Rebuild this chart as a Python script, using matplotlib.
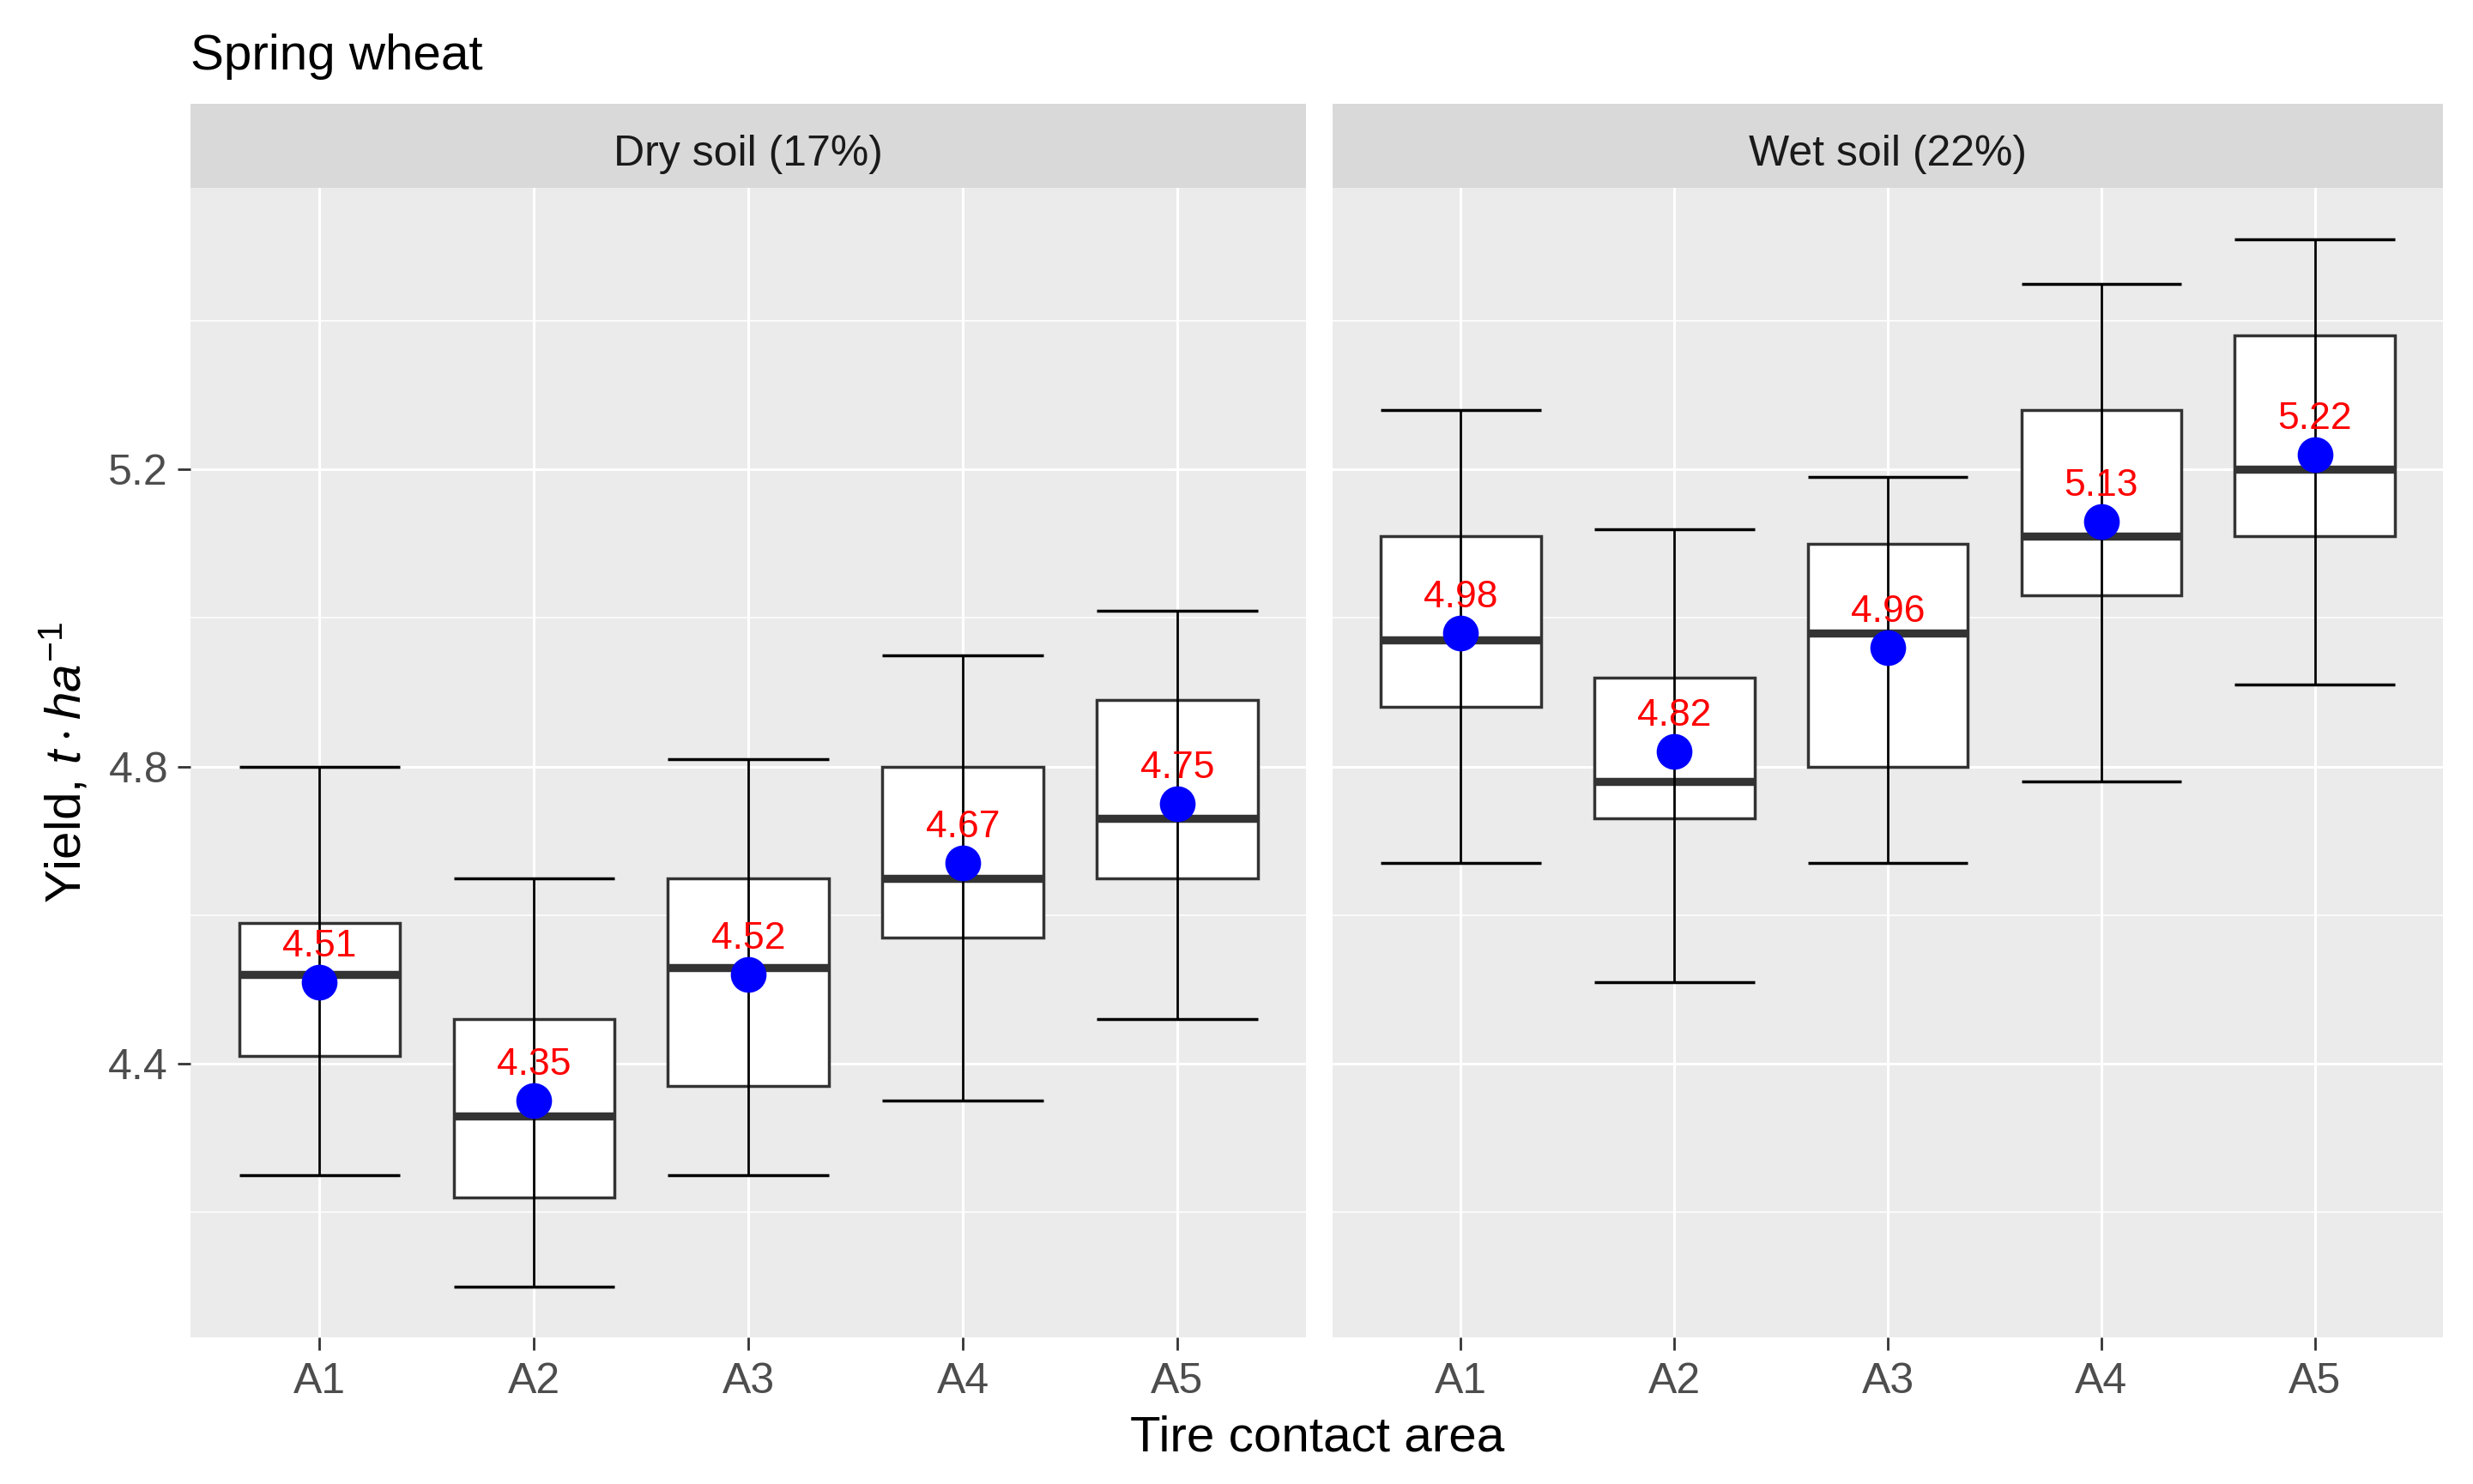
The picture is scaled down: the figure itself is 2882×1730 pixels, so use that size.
import matplotlib
matplotlib.use("Agg")
from matplotlib import pyplot as plt

plt.rcParams['font.family'] = ['Liberation Sans', 'DejaVu Sans']
plt.rcParams['mathtext.fontset'] = 'custom'
plt.rcParams['mathtext.rm'] = 'Liberation Sans'
plt.rcParams['mathtext.it'] = 'Liberation Sans:italic'

# data
areas = ['A1', 'A2', 'A3', 'A4', 'A5']
panels = ['Dry soil (17%)', 'Wet soil (22%)']

dry_min = [4.25, 4.10, 4.25, 4.35, 4.46]
dry_q1 = [4.41, 4.22, 4.37, 4.57, 4.65]
dry_med = [4.52, 4.33, 4.53, 4.65, 4.73]
dry_q3 = [4.59, 4.46, 4.65, 4.80, 4.89]
dry_max = [4.80, 4.65, 4.81, 4.95, 5.01]
dry_mean = [4.51, 4.35, 4.52, 4.67, 4.75]

wet_min = [4.67, 4.51, 4.67, 4.78, 4.91]
wet_q1 = [4.88, 4.73, 4.80, 5.03, 5.11]
wet_med = [4.97, 4.78, 4.98, 5.11, 5.20]
wet_q3 = [5.11, 4.92, 5.10, 5.28, 5.38]
wet_max = [5.28, 5.12, 5.19, 5.45, 5.51]
wet_mean = [4.98, 4.82, 4.96, 5.13, 5.22]

data = [
    (dry_min, dry_q1, dry_med, dry_q3, dry_max, dry_mean),
    (wet_min, wet_q1, wet_med, wet_q3, wet_max, wet_mean),
]

W, H = 1568.0, 940.0
fig = plt.figure(figsize=(14.41, 8.65), dpi=200)

left_edges = [121, 845]
right_edges = [828, 1549]
top, bottom, strip_top = 119, 847, 66

pos = list(range(1, 6))
for i in range(2):
    lo, q1, med, q3, hi, mean = data[i]
    l = left_edges[i] / W
    w = (right_edges[i] - left_edges[i]) / W
    ax = fig.add_axes([l, 1 - bottom / H, w, (bottom - top) / H])
    ax.set_facecolor('#EBEBEB')
    for s in ax.spines.values():
        s.set_visible(False)

    stats = []
    for j in range(5):
        stats.append({'whislo': lo[j], 'q1': q1[j], 'med': med[j], 'q3': q3[j], 'whishi': hi[j]})
    ax.bxp(stats, positions=pos, widths=0.75, showcaps=False, showfliers=False,
           patch_artist=True,
           boxprops=dict(facecolor='white', edgecolor='#333333', linewidth=1.25),
           whiskerprops=dict(linewidth=0),
           medianprops=dict(color='#333333', linewidth=3.4, solid_capstyle='butt'),
           zorder=2)
    # error bars min-max
    ax.vlines(pos, lo, hi, color='black', linewidth=1.0, zorder=3)
    ax.hlines(lo, [p - 0.375 for p in pos], [p + 0.375 for p in pos], color='black', linewidth=1.25, zorder=3)
    ax.hlines(hi, [p - 0.375 for p in pos], [p + 0.375 for p in pos], color='black', linewidth=1.25, zorder=3)

    ax.plot(pos, mean, 'o', color='blue', markersize=14, zorder=4)
    for j in range(5):
        ax.annotate('%.2f' % mean[j], (pos[j], mean[j]), xytext=(0, 15), textcoords='offset points',
                    ha='center', va='center', color='red', fontsize=16, zorder=5)

    ax.set_xlim(0.4, 5.6)
    ax.set_ylim(4.032, 5.579)
    ax.set_xticks(pos)
    ax.set_xticklabels(areas)
    ax.set_yticks([4.4, 4.8, 5.2])
    ax.set_yticks([4.2, 4.6, 5.0, 5.4], minor=True)
    ax.grid(True, which='major', color='white', linewidth=1.1, zorder=0)
    ax.grid(True, which='minor', axis='y', color='white', linewidth=0.55, zorder=0)
    ax.set_axisbelow(True)
    ax.tick_params(axis='x', length=5.5, width=1.0, color='#333333', labelcolor='#4D4D4D',
                   labelsize=18, pad=5)
    ax.tick_params(axis='y', which='major', length=5.5, width=1.0, color='#333333',
                   labelcolor='#4D4D4D', labelsize=18, pad=4)
    ax.tick_params(axis='y', which='minor', length=0)
    if i == 1:
        ax.tick_params(axis='y', which='major', length=0, labelleft=False)

    # facet strip
    sax = fig.add_axes([l, 1 - top / H, w, (top - strip_top) / H])
    sax.set_facecolor('#D9D9D9')
    sax.set_xticks([])
    sax.set_yticks([])
    for s in sax.spines.values():
        s.set_visible(False)
    sax.text(0.5, 0.27, panels[i], ha='center', va='baseline', fontsize=18, color='#1A1A1A',
             transform=sax.transAxes)

fig.text(121 / W, 1 - 44 / H, 'Spring wheat', fontsize=21, color='black', ha='left', va='baseline')
fig.text(835 / W, 1 - 911 / H, 'Tire contact area', fontsize=21, color='black', ha='center', va='center')
fig.text(41 / W, 1 - 483 / H, r'Yield, $t\cdot ha^{-1}$', fontsize=21, color='black',
         ha='center', va='center', rotation=90)

fig.savefig('out.png', dpi=200, facecolor='white')
